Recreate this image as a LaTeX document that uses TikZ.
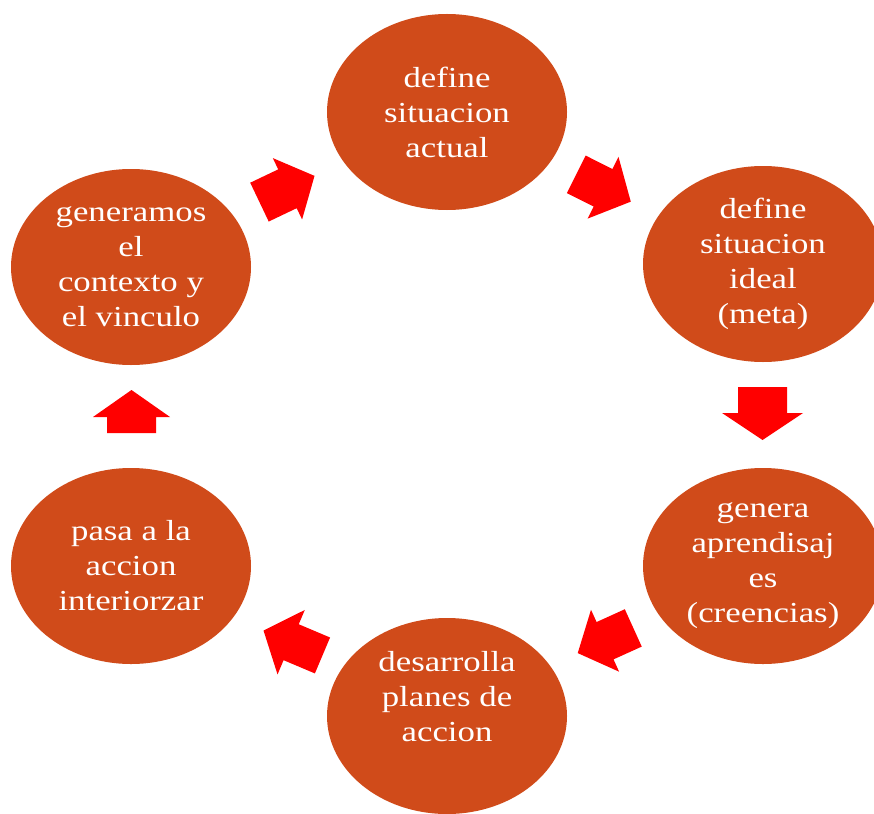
\documentclass[tikz,border=0pt]{standalone}
\usepackage{fontspec}
\setmainfont{Liberation Serif}[FakeStretch=1.2]
\usetikzlibrary{shapes.geometric}
\definecolor{stagefill}{RGB}{208,75,26}
\definecolor{arrowred}{RGB}{255,0,0}
\tikzset{
  stage/.style={ellipse, fill=stagefill, minimum width=240pt, minimum height=196pt, inner sep=0pt},
  stagetext/.style={text=white, align=center, inner sep=0pt, font=\fontsize{29}{35}\selectfont},
  % block arrow centred on the pic origin, pointing along +x
  % #1 total length, #2 head length, #3 shaft width, #4 head width
  pics/blockarrow/.style n args={4}{code={
    \fill[arrowred] ({-#1/2},{-#3/2}) -- ({#1/2-#2},{-#3/2}) -- ({#1/2-#2},{-#4/2})
      -- ({#1/2},0) -- ({#1/2-#2},{#4/2}) -- ({#1/2-#2},{#3/2}) -- ({-#1/2},{#3/2}) -- cycle;
  }},
}
\begin{document}
\begin{tikzpicture}[x=1pt,y=-1pt]
\useasboundingbox (0,0) rectangle (874,813);
\clip (0,0) rectangle (874,813);

% the six stages of the cycle
\node[stage] (actual)   at (447,112) {};
\node[stage] (ideal)    at (763,264) {};
\node[stage] (aprend)   at (763,566) {};
\node[stage] (planes)   at (447,716) {};
\node[stage] (accion)   at (131,566) {};
\node[stage] (contexto) at (131,267) {};

\node[stagetext] (actual-t)   at (actual)   {define\\situacion\\actual};
\node[stagetext] (ideal-t)    at (ideal)    {define\\situacion\\ideal\\(meta)};
\node[stagetext] (aprend-t)   at (aprend)   {genera\\aprendisaj\\es\\(creencias)};
\node[stagetext] (planes-t)   at ([yshift=19pt]planes.center) {desarrolla\\planes de\\accion};
\node[stagetext] (accion-t)   at (accion)   {pasa a la\\accion\\interiorzar};
\node[stagetext] (contexto-t) at (contexto) {generamos\\el\\contexto y\\el vinculo};

% block arrows running clockwise between the stages
\pic[rotate=25.5]  (a1) at (287,189)   {blockarrow={61}{30}{43}{68}};
\pic[rotate=-26.6] (a2) at (603.5,188) {blockarrow={61}{31}{42}{69}};
\pic[rotate=-90]   (a3) at (762.5,413.5) {blockarrow={53}{27}{49}{81}};
\pic[rotate=204.4] (a4) at (605.5,640.5) {blockarrow={61}{30}{41}{68}};
\pic[rotate=157.1] (a5) at (293,643)   {blockarrow={64}{30}{39}{70}};
\pic[rotate=90]    (a6) at (131.5,411.5) {blockarrow={43}{27}{49}{77}};
\end{tikzpicture}
\end{document}
